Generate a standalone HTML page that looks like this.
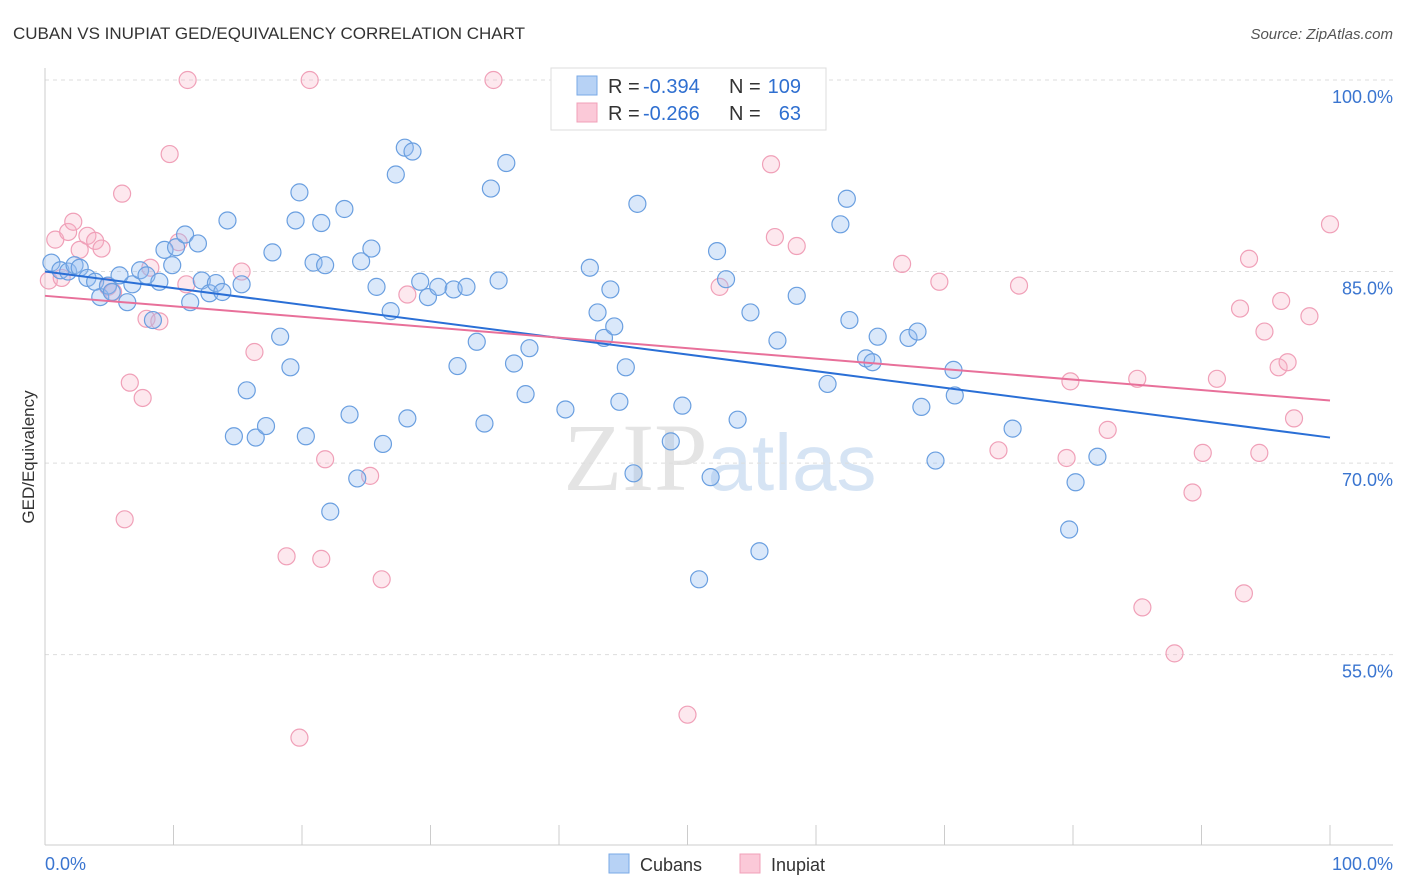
<!DOCTYPE html>
<html><head><meta charset="utf-8"><style>
body{margin:0;background:#fff;font-family:"Liberation Sans",sans-serif;}
svg{display:block}
</style></head><body>
<svg id="chart" width="1406" height="892">
<text x="13" y="39" font-size="17" fill="#333">CUBAN VS INUPIAT GED/EQUIVALENCY CORRELATION CHART</text>
<text x="1393" y="39" font-size="15" fill="#555" text-anchor="end" font-style="italic">Source: ZipAtlas.com</text>
<text x="720" y="490" font-size="96" fill="#e4e4e4" text-anchor="middle" font-family="Liberation Serif,serif">ZIP<tspan fill="#d6e4f4" font-family="Liberation Sans,sans-serif" font-size="80">atlas</tspan></text>
<g id="grid"></g>
<g id="marks"></g>
<text transform="translate(34,457) rotate(-90)" font-size="17" fill="#333" text-anchor="middle">GED/Equivalency</text>
<g>
<rect x="551" y="68" width="275" height="62" fill="#fff" stroke="#ddd"/>
<rect x="577" y="76" width="20" height="19" fill="#b7d2f5" stroke="#7aa9e6"/>
<rect x="577" y="103" width="20" height="19" fill="#fbc9d8" stroke="#f0a0b8"/>
<text x="608" y="93" font-size="20" fill="#333">R =</text>
<text x="643" y="93" font-size="20" fill="#2f6fd0">-0.394</text>
<text x="729" y="93" font-size="20" fill="#333">N =</text>
<text x="801" y="93" font-size="20" fill="#2f6fd0" text-anchor="end">109</text>
<text x="608" y="120" font-size="20" fill="#333">R =</text>
<text x="643" y="120" font-size="20" fill="#2f6fd0">-0.266</text>
<text x="729" y="120" font-size="20" fill="#333">N =</text>
<text x="801" y="120" font-size="20" fill="#2f6fd0" text-anchor="end">63</text>
</g>
<g>
<rect x="609" y="854" width="20" height="19" fill="#b7d2f5" stroke="#7aa9e6"/>
<text x="640" y="871" font-size="18" fill="#333">Cubans</text>
<rect x="740" y="854" width="20" height="19" fill="#fbc9d8" stroke="#f0a0b8"/>
<text x="771" y="871" font-size="18" fill="#333">Inupiat</text>
</g>
</svg>
<script>
const yTicks=[55,70,85,100];
const yTickLabels=["55.0%","70.0%","85.0%","100.0%"];
const xTickLabels=["0.0%","100.0%"];
const cubanX=[.5,1.2,1.8,2.3,2.7,3.3,3.9,4.3,4.9,5.2,5.8,6.4,6.8,7.4,7.9,8.4,8.9,9.3,9.9,10.2,10.9,11.3,11.9,12.2,12.8,13.3,13.8,14.2,14.7,15.3,15.7,16.4,17.2,17.7,18.3,19.1,19.8,19.5,20.3,20.9,21.5,21.8,22.2,23.3,23.7,24.3,24.6,25.4,25.8,26.3,26.9,27.3,28.0,28.6,28.2,29.2,29.8,30.6,31.8,32.1,32.8,33.6,34.2,34.7,35.3,35.9,36.5,37.4,37.7,40.5,42.4,43.0,43.5,44.0,44.3,44.7,45.2,45.8,46.1,48.7,49.6,50.9,51.8,52.3,53.0,53.9,54.9,55.6,57.0,58.5,60.9,61.9,62.4,62.6,63.9,64.4,64.8,67.2,67.9,68.2,69.3,70.7,70.8,75.3,79.7,80.2,81.9];
const cubanY=[85.7,85.1,85.0,85.5,85.3,84.5,84.2,83.0,83.9,83.4,84.7,82.6,84.0,85.1,84.7,81.2,84.2,86.7,85.5,86.9,87.9,82.6,87.2,84.3,83.3,84.1,83.4,89.0,72.1,84.0,75.7,72.0,72.9,86.5,79.9,77.5,91.2,89.0,72.1,85.7,88.8,85.5,66.2,89.9,73.8,68.8,85.8,86.8,83.8,71.5,81.9,92.6,94.7,94.4,73.5,84.2,83.0,83.8,83.6,77.6,83.8,79.5,73.1,91.5,84.3,93.5,77.8,75.4,79.0,74.2,85.3,81.8,79.8,83.6,80.7,74.8,77.5,69.2,90.3,71.7,74.5,60.9,68.9,86.6,84.4,73.4,81.8,63.1,79.6,83.1,76.2,88.7,90.7,81.2,78.2,77.9,79.9,79.8,80.3,74.4,70.2,77.3,75.3,72.7,64.8,68.5,70.5];
const inupiatX=[.3,.8,1.3,1.8,2.2,2.7,3.3,3.9,4.4,4.9,5.3,6.0,6.2,6.6,7.6,7.9,8.2,8.9,9.7,10.4,11.0,11.1,15.3,16.3,18.8,19.8,20.6,21.8,21.5,25.3,26.2,28.2,34.9,47.1,50.0,52.5,56.5,56.8,58.5,66.7,69.6,74.2,75.8,79.5,79.8,82.7,85.0,85.4,87.9,89.3,90.1,91.2,93.0,93.3,93.7,94.5,94.9,96.2,96.0,96.7,97.2,98.4,100];
const inupiatY=[84.3,87.5,84.5,88.1,88.9,86.7,87.8,87.4,86.8,83.8,83.4,91.1,65.6,76.3,75.1,81.3,85.3,81.1,94.2,87.3,84.0,100,85.0,78.7,62.7,48.5,100,70.3,62.5,69.0,60.9,83.2,100,100,50.3,83.8,93.4,87.7,87.0,85.6,84.2,71.0,83.9,70.4,76.4,72.6,76.6,58.7,55.1,67.7,70.8,76.6,82.1,59.8,86.0,70.8,80.3,82.7,77.5,77.9,73.5,81.5,88.7];
const trendCuban=[85.0,72.0];
const trendInupiat=[83.1,74.9];
const NS="http://www.w3.org/2000/svg";
const X=v=>45+v*12.85, Y=v=>80+(100-v)*12.77;
function mk(t,a,p){const e=document.createElementNS(NS,t);for(const k in a)e.setAttribute(k,a[k]);p.appendChild(e);return e;}
const grid=document.getElementById('grid'),marks=document.getElementById('marks');
yTicks.forEach((t,i)=>{
 const l=mk('line',{x1:45,x2:1393,y1:Y(t),y2:Y(t),stroke:'#ddd','stroke-dasharray':'4,4'},grid);
 
 
 const tx=mk('text',{x:1393,y:Y(t)+23,'font-size':18,fill:'#3a75d0','text-anchor':'end'},grid);
 tx.textContent=yTickLabels[i];
 
 
});
mk('line',{x1:45,x2:45,y1:68,y2:845,stroke:'#ccc'},grid);
mk('line',{x1:45,x2:1393,y1:845,y2:845,stroke:'#ccc'},grid);
for(let i=0;i<=10;i++){mk('line',{x1:X(i*10),x2:X(i*10),y1:825,y2:845,stroke:'#ccc'},grid);}
const xl0=mk('text',{x:45,y:870,'font-size':18,fill:'#3a75d0'},grid);xl0.textContent=xTickLabels[0];


const xl1=mk('text',{x:1393,y:870,'font-size':18,fill:'#3a75d0','text-anchor':'end'},grid);xl1.textContent=xTickLabels[1];


function pts(xs,ys,fill,stroke,name){xs.forEach((x,i)=>{const c=mk('circle',{cx:X(x),cy:Y(ys[i]),r:8.5,fill:fill,stroke:stroke,'stroke-width':1.2},marks);
 
 });}
pts(inupiatX,inupiatY,'rgba(248,180,200,0.3)','#f0a0b8','inupiat-point');
pts(cubanX,cubanY,'rgba(150,190,240,0.35)','#6a9fe0','cuban-point');
const tc=mk('line',{x1:X(0),y1:Y(trendCuban[0]),x2:X(100),y2:Y(trendCuban[1]),stroke:'#2a6fd6','stroke-width':2},marks);


const ti=mk('line',{x1:X(0),y1:Y(trendInupiat[0]),x2:X(100),y2:Y(trendInupiat[1]),stroke:'#e8709a','stroke-width':2},marks);


</script>
</body></html>
